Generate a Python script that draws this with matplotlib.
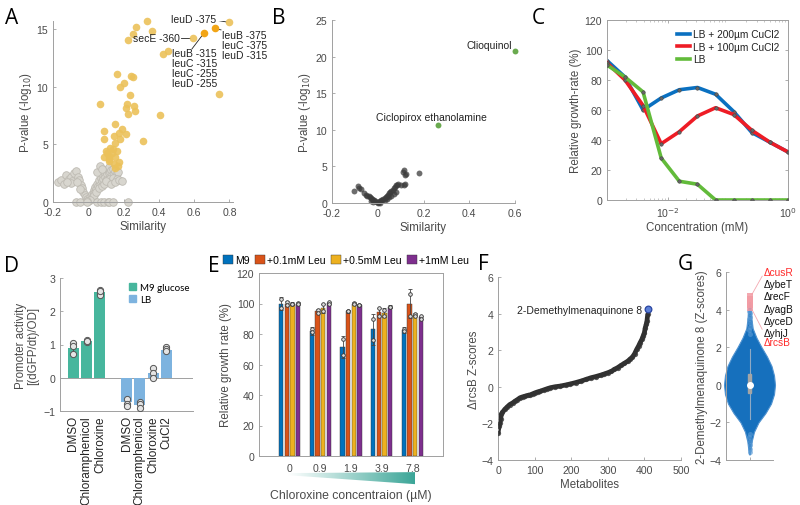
import numpy as np
import matplotlib
matplotlib.use("Agg")
import matplotlib.pyplot as plt
from matplotlib.patches import Polygon, Rectangle
from matplotlib.lines import Line2D
from matplotlib.colors import LinearSegmentedColormap

plt.rcParams['font.family'] = ['Liberation Sans', 'DejaVu Sans']

# ---------------- data ----------------
# A: similarity vs p-value
a_gray_x = [-0.17, -0.155, -0.14, -0.125, -0.11, -0.1, -0.09, -0.08, -0.07, -0.06, -0.05, -0.04,
            -0.035, -0.03, -0.02, -0.015, -0.01, -0.005, -0.1, -0.12, -0.065, -0.045,
            0.005, 0.01, 0.015, 0.02, 0.025, 0.03, 0.035, 0.04, 0.045, 0.05, 0.055, 0.06, 0.065,
            0.07, 0.075, 0.08, 0.085, 0.09, 0.095, 0.1, 0.105, 0.11, 0.115, 0.12, 0.125, 0.13,
            0.135, 0.14, 0.145, 0.15, 0.155, 0.16, 0.165, 0.17, 0.03, 0.045, 0.06, 0.075, 0.09,
            0.1, 0.12, 0.14, 0.16, 0.05, 0.065, 0.08, 0.1, 0.13, 0.15, 0.175, 0.19, 0.0, 0.01,
            -0.01, -0.07, -0.045, -0.005, 0.05, 0.07, 0.09, 0.11, 0.12, 0.14, 0.225]
a_gray_y = [1.75, 1.9, 1.6, 2.3, 2.0, 2.2, 1.8, 2.5, 2.7, 2.2, 1.9, 1.5,
            1.2, 0.9, 0.6, 0.4, 0.25, 0.1, 1.65, 1.7, 1.7, 1.1,
            0.15, 0.4, 0.3, 0.7, 0.5, 1.0, 0.8, 1.3, 1.1, 1.6, 1.4, 1.9, 1.5,
            2.1, 1.8, 2.4, 2.0, 2.6, 2.2, 2.8, 2.4, 2.9, 2.5, 3.0, 2.6, 2.8,
            2.3, 2.9, 2.4, 2.7, 2.2, 2.5, 2.0, 2.6, 0.6, 0.9, 1.2, 1.4, 1.6,
            1.9, 2.0, 2.1, 2.0, 2.6, 3.1, 2.9, 1.8, 1.6, 1.7, 1.9, 1.8, 0.05, 0.2,
            0.05, 0, 0, 0, 0, 0, 0, 0, 0, 0, 0]
a_gold_x = [0.8, 0.596, 0.332, 0.272, 0.36, 0.255, 0.223, 0.449, 0.423, 0.738, 0.162, 0.243,
            0.253, 0.204, 0.181, 0.234, 0.068, 0.219, 0.211, 0.257, 0.266, 0.223, 0.409, 0.153,
            0.087, 0.191, 0.172, 0.211, 0.143, 0.181, 0.091, 0.309, 0.153, 0.125, 0.106, 0.134,
            0.162, 0.087, 0.115, 0.153, 0.172, 0.143, 0.166, 0.153, 0.115, 0.102, 0.12, 0.14]
a_gold_y = [15.58, 14.22, 15.66, 15.17, 14.8, 14.57, 14.02, 13.07, 12.84, 9.33, 11.06, 10.97,
            10.85, 10.28, 9.99, 9.24, 8.52, 8.47, 8.18, 8.32, 7.89, 7.6, 7.52, 6.74,
            6.16, 6.3, 6.02, 5.87, 5.73, 5.44, 5.44, 5.3, 5.15, 4.72, 4.29, 4.23,
            4.43, 3.94, 4.0, 3.86, 3.43, 3.28, 3.14, 2.94, 3.57, 4.43, 3.7, 4.6]
a_hot_x = [0.719, 0.653]
a_hot_y = [15.06, 14.63]

# B
b_gray_x = [-0.105, -0.085, -0.08, -0.075, -0.06, -0.05, -0.045, -0.04, -0.035, -0.03, -0.025,
            -0.02, -0.015, -0.01, -0.005, 0, 0.005, 0.01, 0.015, 0.02, 0.025, 0.03, 0.035, 0.04,
            0.045, 0.05, 0.055, 0.06, 0.065, 0.07, 0.075, 0.08, 0.085, 0.09, 0.1, 0.11, 0.115,
            0.12, 0.125, 0.18, 0.03, 0.04, 0.05, 0.06, 0.07, 0.08, -0.02, -0.03, 0.0, 0.01,
            0.115, 0.12]
b_gray_y = [1.6, 2.3, 2.1, 1.9, 1.3, 1.1, 1.0, 0.9, 0.8, 0.7, 0.6,
            0.45, 0.35, 0.25, 0.15, 0.1, 0.15, 0.25, 0.35, 0.45, 0.55, 0.7, 0.85, 1.0,
            1.15, 1.3, 1.45, 1.6, 1.8, 2.0, 2.2, 2.4, 2.5, 2.6, 2.5, 4.3, 4.5,
            3.8, 4.0, 4.1, 0.4, 0.6, 0.8, 1.0, 1.2, 1.5, 0.2, 0.3, 0.0, 0.05,
            2.5, 2.55]
b_hit_x = [0.265, 0.6]
b_hit_y = [10.6, 20.7]
b_hit_names = ['Ciclopirox ethanolamine', 'Clioquinol']

# C
conc = [0.000977, 0.00195, 0.0039, 0.0078, 0.0156, 0.03125, 0.0625, 0.125, 0.25, 0.5, 1.0]
c_cu200 = [93, 82, 60, 68, 73.5, 75, 70.5, 59, 45, 38.5, 32]
c_cu100 = [91.5, 80, 63, 37.5, 45.5, 56, 61.5, 57, 46.5, 38.5, 32]
c_lb = [90, 82, 72, 28, 12.5, 10.5, 0, 0, 0, 0, 0]
c_names = ['LB + 200µm CuCl2', 'LB + 100µm CuCl2', 'LB']

# D
d_labels = ['DMSO', 'Chloramphenicol', 'Chloroxine', 'DMSO', 'Chloramphenicol', 'Chloroxine', 'CuCl2']
d_pos = [1, 2, 3, 5, 6, 7, 8]
d_vals = [0.9, 1.1, 2.57, -0.73, -0.83, 0.13, 0.83]
d_reps = [[1.05, 0.95, 0.7], [1.15, 1.08, 1.1], [2.65, 2.55, 2.5, 2.6],
          [-0.65, -0.78, -0.85], [-0.72, -0.8, -0.9], [0.3, 0.15, -0.02], [0.92, 0.85, 0.8]]
d_media = ['M9', 'M9', 'M9', 'LB', 'LB', 'LB', 'LB']

# E
e_conc = ['0', '0.9', '1.9', '3.9', '7.8']
e_names = ['M9', '+0.1mM Leu', '+0.5mM Leu', '+1mM Leu']
e_vals = [[100, 82, 71.5, 83, 82.5],
          [100, 95, 95, 94.5, 100],
          [100, 97, 100, 94, 92.5],
          [100, 100.5, 99, 98, 91]]
e_err = [[4, 2.5, 7, 10, 2],
         [1.5, 1.5, 1, 2.5, 9.5],
         [1, 3, 1, 3, 1],
         [1, 0.5, 0.5, 1, 1]]
e_reps = [[[103, 97], [83, 81], [77, 66], [90, 76], [83, 82]],
          [[101, 99], [96, 94], [95, 95], [97, 92], [106, 92]],
          [[100, 100], [99.5, 95], [100.5, 99.5], [96, 92], [93, 92]],
          [[100.5, 99.5], [101, 100], [99, 99], [98, 97.5], [92, 90]]]

# F
f_rank = [0, 3, 5, 7, 9, 12, 18, 25, 32, 40, 46, 53, 60, 67, 74, 81, 88, 95, 101, 108,
          115, 125, 135, 143, 155, 170, 185, 198, 212, 226, 240, 253, 267, 281, 290,
          300, 310, 318, 327, 336, 345, 355, 361, 367, 373, 379, 384, 388, 393, 397,
          400, 402, 405, 407, 409]
f_z = [-2.52, -2.16, -1.97, -1.75, -1.5, -1.4, -1.24, -1.1, -0.97, -0.88, -0.79, -0.7, -0.6,
       -0.55, -0.51, -0.47, -0.44, -0.38, -0.33, -0.28, -0.24, -0.17, -0.1, -0.05, 0.0,
       0.04, 0.1, 0.16, 0.23, 0.31, 0.4, 0.49, 0.56, 0.64, 0.7, 0.77, 0.85, 0.95, 1.05,
       1.17, 1.28, 1.41, 1.52, 1.62, 1.8, 2.05, 2.23, 2.4, 2.59, 2.8, 2.96, 3.2, 3.42,
       3.6, 3.96]
f_hit = (411, 4.25)

# G (violin outline, half widths in px)
g_vy = [-3.7, -3.3, -3.0, -2.5, -2.0, -1.5, -1.0, -0.5, 0, 0.5, 1.0, 1.5, 2.0, 2.5, 3.0, 3.5, 4.0, 4.4]
g_vw = [0.5, 1.5, 2.2, 4.5, 9, 16, 21.5, 24.5, 25.5, 24.5, 22, 17.5, 12, 7, 3.2, 2, 1.5, 0.5]
g_dot_x = [1.0, 0.99, 1.01, 1.0, 0.985, 1.015, 1.0, 1.0, 0.99, 1.01, 1.0, 1.0, 1.0, 0.99]
g_dot_y = [2.7, 2.9, 3.1, 3.3, 3.5, 3.6, 3.8, -2.6, -2.8, -3.0, -3.2, -3.4, -3.55, 3.95]
g_top_y = [4.1, 4.25, 4.4, 4.55, 4.7]
g_genes = ['ΔcusR', 'ΔybeT', 'ΔrecF', 'ΔyagB', 'ΔyceD', 'ΔyhjJ', 'ΔrcsB']
g_gene_y = [6.0, 5.35, 4.7, 4.05, 3.4, 2.78, 2.25]
g_gene_red = [True, False, False, False, False, False, True]

# ---------------- figure ----------------
W, H = 800, 506
fig = plt.figure(figsize=(W / 100, H / 100), dpi=100)

def ax_px(l, t, r, b):
    return fig.add_axes([l / W, 1 - b / H, (r - l) / W, (b - t) / H])

def style(ax, box=False):
    ax.spines['top'].set_visible(box)
    ax.spines['right'].set_visible(box)
    for s in ax.spines.values():
        s.set_color('#a0a0a0')
        s.set_linewidth(0.7)
    ax.tick_params(direction='in', length=2.5, width=0.6, colors='#a0a0a0',
                   labelcolor='#4a4a4a', labelsize=7.6, pad=3.5)
    ax.tick_params(which='minor', direction='in', length=1.5, width=0.5, colors='#b0b0b0')

lab = dict(fontsize=8.3, color='#4a4a4a')
txt = dict(fontsize=7.5, color='#222222')
letter = dict(fontsize=15, family=['Open Sans', 'DejaVu Sans'], color='black')

# A
ax = ax_px(53, 22, 233, 203)
style(ax)
ax.scatter(a_gray_x, a_gray_y, s=30, facecolor='#d8d6cf', edgecolor='#bebbb3', linewidth=0.6,
           zorder=2, clip_on=False)
ax.scatter(a_gold_x, a_gold_y, s=30, color='#ebc15a', alpha=0.9, linewidth=0, zorder=3, clip_on=False)
ax.scatter(a_hot_x, a_hot_y, s=30, color='#f2a516', linewidth=0, zorder=4, clip_on=False)
ax.set_xlim(-0.2, 0.82)
ax.set_ylim(0, 15.7)
ax.set_xticks([-0.2, 0, 0.2, 0.4, 0.6, 0.8])
ax.set_xticklabels(['-0.2', '0', '0.2', '0.4', '0.6', '0.8'])
ax.set_yticks([0, 5, 10, 15])
ax.set_xlabel('Similarity', labelpad=2, **lab)
ax.set_ylabel('P-value (-log$_{10}$)', labelpad=2, **lab)
ax.text(0.725, 15.84, 'leuD -375', ha='right', va='center', **txt)
ax.plot([0.732, 0.782], [15.75, 15.62], color='#222222', lw=0.6)
ax.text(0.758, 14.95, 'leuB -375\nleuC -375\nleuD -315', ha='left', va='top', linespacing=1.0, **txt)
ax.plot([0.752, 0.735], [14.93, 14.98], color='#222222', lw=0.6)
ax.text(0.52, 14.22, 'secE -360', ha='right', va='center', **txt)
ax.plot([0.527, 0.578], [14.22, 14.22], color='#222222', lw=0.6)
ax.text(0.472, 13.4, 'leuB -315\nleuC -315\nleuC -255\nleuD -255', ha='left', va='top',
        linespacing=1.0, **txt)
ax.plot([0.587, 0.643], [13.27, 14.4], color='#222222', lw=0.6)
fig.text(5 / W, 1 - 24 / H, 'A', **letter)

# B
ax = ax_px(332, 21, 515, 204)
style(ax)
ax.scatter(b_gray_x, b_gray_y, s=18, color='#3c3c3c', alpha=0.75, linewidth=0, zorder=2, clip_on=False)
ax.scatter(b_hit_x, b_hit_y, s=18, color='#6aaa4f', linewidth=0, zorder=3, clip_on=False)
ax.set_xlim(-0.2, 0.6)
ax.set_ylim(0, 25)
ax.set_xticks([-0.2, 0, 0.2, 0.4, 0.6])
ax.set_xticklabels(['-0.2', '0', '0.2', '0.4', '0.6'])
ax.set_yticks([0, 5, 10, 15, 20, 25])
ax.set_xlabel('Similarity', labelpad=2, **lab)
ax.set_ylabel('P-value (-log$_{10}$)', labelpad=2, **lab)
ax.text(0.475, 11.7, b_hit_names[0], ha='right', va='center', **txt)
ax.text(0.586, 21.6, b_hit_names[1], ha='right', va='center', **txt)
fig.text(272 / W, 1 - 24 / H, 'B', **letter)

# C
ax = ax_px(607, 21, 788, 201)
style(ax, box=True)
c_cols = ['#0a70c0', '#ee1c25', '#62bb3a']
mk = dict(marker='o', ms=2.5, mfc='#666666', mec='#444444', mew=0.4)
for k, series in enumerate([c_cu200, c_cu100, c_lb]):
    ax.plot(conc, series, color=c_cols[k], lw=2.6, zorder=2 + k, **mk)
ax.set_xscale('log')
ax.set_xlim(0.00098, 1.0)
ax.set_ylim(0, 120)
ax.set_yticks(range(0, 121, 20))
ax.set_xticks([0.01, 1])
ax.set_xticklabels(['10$^{-2}$', '10$^{0}$'])
ax.tick_params(which='both', top=True, right=True)
ax.set_xlabel('Concentration (mM)', labelpad=2, **lab)
ax.set_ylabel('Relative growth-rate (%)', labelpad=2, **lab)
c_handles = [Line2D([], [], color=c, lw=2.6) for c in c_cols]
leg = ax.legend(c_handles, c_names, loc='upper right', frameon=False, fontsize=7.3, handlelength=1.2,
                handletextpad=0.3, labelspacing=0.25, borderaxespad=0.5)
for t in leg.get_texts():
    t.set_color('#222222')
fig.text(532 / W, 1 - 24 / H, 'C', **letter)

# D
ax = ax_px(60, 279, 193, 412)
style(ax)
d_col = {'M9': '#47b69d', 'LB': '#7db3df'}
for p, v, m, r in zip(d_pos, d_vals, d_media, d_reps):
    ax.bar(p, v, width=0.82, color=d_col[m], zorder=2)
    ax.plot([p, p], [min(r), max(r)], color='#555555', lw=0.7, zorder=3)
    ax.scatter([p] * len(r), r, s=20, facecolor='#e4e4e4', edgecolor='#555555', linewidth=0.7, zorder=4)
ax.axhline(0, color='#a0a0a0', lw=0.7, zorder=1)
ax.set_xlim(0, 10)
ax.set_ylim(-1, 3)
ax.set_yticks([-1, 0, 1, 2, 3])
ax.set_xticks(d_pos)
ax.set_xticklabels(d_labels, rotation=90, fontsize=8.5, color='#222222')
ax.tick_params(axis='x', length=0, pad=3)
ax.set_ylabel('Promoter activity\n[(dGFP/dt)/OD]', labelpad=3, linespacing=1.0, **lab)
h1 = Rectangle((0, 0), 1, 1, color=d_col['M9'])
h2 = Rectangle((0, 0), 1, 1, color=d_col['LB'])
leg = ax.legend([h1, h2], ['M9 glucose', 'LB'], loc='upper right', frameon=False,
                prop={'family': ['Lato', 'DejaVu Sans'], 'size': 7},
                handlelength=0.7, handleheight=0.7, handletextpad=0.4, labelspacing=0.3,
                bbox_to_anchor=(1.04, 1.03))
fig.text(4 / W, 1 - 272 / H, 'D', **letter)

# E
ax = ax_px(259, 274, 443, 457)
style(ax, box=True)
e_cols = ['#0072bd', '#d95319', '#edb120', '#7e2f8e']
e_off = [-0.276, -0.092, 0.092, 0.276]
groups = np.arange(1, len(e_conc) + 1)
handles = []
for k in range(4):
    xs = groups + e_off[k]
    b = ax.bar(xs, e_vals[k], width=0.14, color=e_cols[k], edgecolor='#333333', linewidth=0.3, zorder=2)
    handles.append(b)
    ax.errorbar(xs, e_vals[k], yerr=e_err[k], fmt='none', ecolor='#444444', elinewidth=0.6,
                capsize=1.5, capthick=0.6, zorder=3)
    for x, r in zip(xs, e_reps[k]):
        ax.plot([x] * len(r), r, 'o', ms=2.6, mfc='#dddddd', mec='#333333', mew=0.6, zorder=4)
ax.set_xlim(0, 6)
ax.set_ylim(0, 120)
ax.set_yticks(range(0, 121, 20))
ax.set_xticks(groups)
ax.set_xticklabels(e_conc)
ax.tick_params(axis='x', length=0, pad=5)
ax.set_ylabel('Relative growth rate (%)', labelpad=3, **lab)
fig.legend(handles, e_names, loc='center left', bbox_to_anchor=(219 / W, 1 - 261 / H), ncol=4,
           frameon=False, fontsize=7.6, handlelength=0.9, handleheight=0.9, handletextpad=0.2,
           columnspacing=0.55, borderaxespad=0)
# concentration wedge
wax = ax_px(288, 472, 415, 486)
wax.axis('off')
cmap = LinearSegmentedColormap.from_list('wedge', ['#ffffff', '#3aa597'])
im = wax.imshow(np.linspace(0, 1, 256)[None, :], cmap=cmap, aspect='auto', extent=[0, 1, 0, 1])
tri = Polygon([(0, 0.85), (1, 0.92), (1, 0.06), (0, 0.7)], closed=True, transform=wax.transAxes,
              facecolor='none', edgecolor='none')
wax.add_patch(tri)
im.set_clip_path(tri)
wax.set_xlim(0, 1)
wax.set_ylim(0, 1)
fig.text(351 / W, 1 - 496 / H, 'Chloroxine concentraion (µM)', ha='center', va='center',
         fontsize=8.8, color='#4a4a4a')
fig.text(208 / W, 1 - 272 / H, 'E', **letter)

# F
ax = ax_px(498, 278, 681, 461)
style(ax)
ax.plot(f_rank, f_z, '-', color='#2e2e2e', lw=3.4, solid_capstyle='round', zorder=2)
ax.plot(f_rank, f_z, 'o', ms=3.8, color='#333333', alpha=0.8, mew=0, zorder=3)
ax.plot(*f_hit, 'o', ms=4.8, mfc='#5b7fd6', mec='#2a45a0', mew=0.9, zorder=4)
ax.text(393, 4.22, '2-Demethylmenaquinone 8', ha='right', va='center', **txt)
ax.set_xlim(0, 500)
ax.set_ylim(-4, 6)
ax.set_xticks(range(0, 501, 100))
ax.set_yticks(range(-4, 7, 2))
ax.set_xlabel('Metabolites', labelpad=2, **lab)
ax.set_ylabel('ΔrcsB Z-scores', labelpad=1, **lab)
fig.text(478 / W, 1 - 270 / H, 'F', **letter)

# G
ax = ax_px(726, 273, 773, 461)
style(ax)
wv = np.array(g_vw) / 47.0
ax.fill_betweenx(g_vy, 1 - wv, 1 + wv, facecolor='#1670bd', edgecolor='#4f92d0', lw=0.8,
                 zorder=2, clip_on=False)
ax.plot(g_dot_x, g_dot_y, 'o', ms=3.6, color='#5b9bd5', alpha=0.6, mew=0, zorder=3)
ax.plot([1, 1], [-1.8, 1.9], color='#8fa9c4', lw=0.8, zorder=3)
ax.add_patch(Rectangle((1 - 0.03, -0.45), 0.06, 1.05, color='#a5a5a5', zorder=4))
ax.plot(1, 0, 'o', ms=4, color='white', zorder=5)
ax.plot([1] * len(g_top_y), g_top_y, 's', ms=4.2, color='#f29aa3', alpha=0.85, mew=0, zorder=5)
ax.plot([1.05, 1.27], [4.8, 5.78], color='#f4a8b0', lw=0.6, clip_on=False)
ax.plot([1.05, 1.27], [4.02, 2.95], color='#f4a8b0', lw=0.6, clip_on=False)
for name, gy, red in zip(g_genes, g_gene_y, g_gene_red):
    ax.text(1.3, gy, name, ha='left', va='center', fontsize=7.3,
            color='#ff2a2a' if red else '#111111', clip_on=False)
ax.set_xlim(0.5, 1.5)
ax.set_ylim(-4, 6)
ax.set_xticks([1])
ax.set_xticklabels([''])
ax.set_yticks(range(-4, 7, 2))
ax.set_ylabel('2-Demethylmenaquinone 8 (Z-scores)', labelpad=1, **lab)
fig.text(678 / W, 1 - 270 / H, 'G', **letter)

fig.savefig('out.png', dpi=100)
